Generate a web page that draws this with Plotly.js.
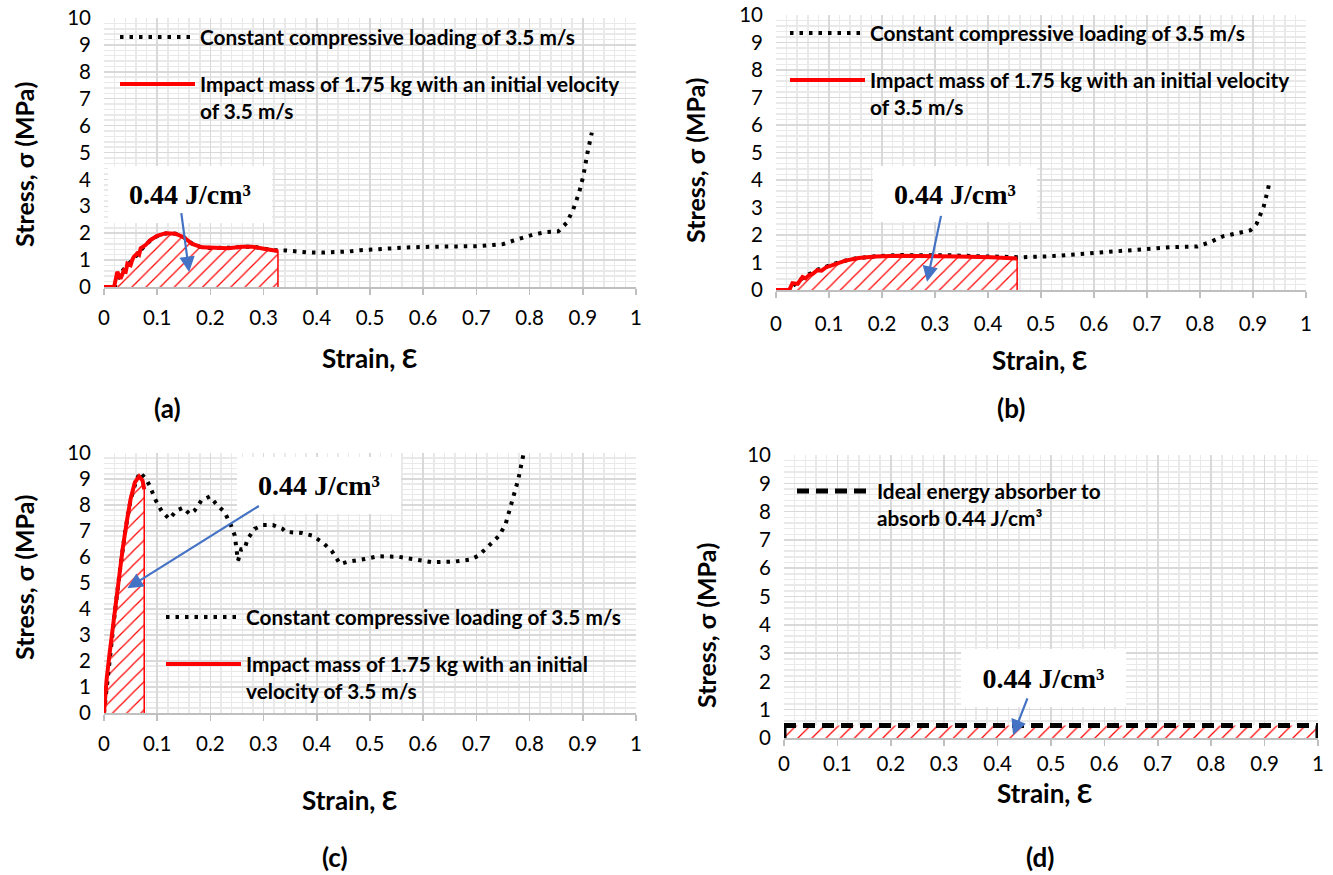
<!DOCTYPE html>
<html>
<head>
<meta charset="utf-8">
<script src="https://cdn.plot.ly/plotly-3.0.1.min.js"></script>
<style>html,body{margin:0;padding:0;background:#fff;}#chart{width:1333px;height:875px;}</style>
</head>
<body>
<div id="chart"></div>
<script>
// ---------- DATA ----------
// (a)
const strainA_const = [0,0.02,0.03,0.045,0.06,0.075,0.09,0.105,0.12,0.135,0.15,0.165,0.18,0.2,0.22,0.24,0.26,0.28,0.3,0.32,0.341,0.36,0.38,0.41,0.436,0.46,0.483,0.51,0.538,0.57,0.6,0.63,0.657,0.68,0.704,0.73,0.751,0.775,0.79,0.807,0.83,0.854,0.87,0.882,0.893,0.901,0.909,0.917];
const stressA_const = [0,0,0.5,0.8,1.15,1.5,1.78,1.95,2.0,1.98,1.85,1.62,1.5,1.45,1.44,1.46,1.5,1.5,1.43,1.37,1.36,1.32,1.29,1.28,1.29,1.32,1.37,1.41,1.45,1.47,1.49,1.49,1.49,1.5,1.52,1.56,1.6,1.76,1.86,1.95,2.04,2.07,2.39,2.88,3.5,4.12,5.0,5.74];
const strainA_impact = [0,0.019,0.025,0.031,0.0375,0.041,0.044,0.05,0.053,0.056,0.0625,0.066,0.069,0.078,0.0875,0.1,0.116,0.134,0.15,0.166,0.184,0.209,0.234,0.259,0.278,0.303,0.327];
const stressA_impact = [0,0,0.56,0.31,0.62,0.58,0.87,0.81,1.0,1.12,1.25,1.2,1.44,1.56,1.75,1.9,2.0,1.98,1.85,1.6,1.475,1.44,1.44,1.5,1.5,1.41,1.34];
// (b)
const strainB_const = [0,0.025,0.04,0.06,0.08,0.1,0.12,0.15,0.19,0.23,0.28,0.33,0.38,0.42,0.465,0.52,0.578,0.626,0.666,0.698,0.747,0.795,0.819,0.843,0.867,0.895,0.907,0.92,0.928,0.932];
const stressB_const = [0,0,0.3,0.55,0.75,0.9,1.02,1.15,1.23,1.27,1.28,1.26,1.23,1.2,1.19,1.23,1.32,1.38,1.44,1.52,1.56,1.58,1.74,1.95,2.05,2.17,2.41,3.02,3.63,4.0];
const strainB_impact = [0,0.025,0.031,0.041,0.05,0.056,0.0625,0.07,0.078,0.086,0.094,0.1125,0.131,0.156,0.1875,0.231,0.281,0.344,0.406,0.455];
const stressB_impact = [0,0,0.25,0.22,0.47,0.42,0.54,0.6,0.72,0.7,0.82,0.95,1.07,1.16,1.22,1.25,1.25,1.22,1.19,1.15];
// (c)
const strainC_const = [0,0.01,0.02,0.03,0.04,0.05,0.06,0.0675,0.079,0.086,0.096,0.108,0.1225,0.136,0.149,0.161,0.17,0.183,0.199,0.211,0.227,0.239,0.246,0.249,0.252,0.258,0.264,0.27,0.283,0.299,0.3175,0.336,0.341,0.373,0.392,0.412,0.428,0.444,0.459,0.49,0.515,0.554,0.586,0.617,0.657,0.688,0.704,0.724,0.743,0.755,0.767,0.779,0.789];
const stressC_const = [0,2.0,3.8,5.5,7.0,8.2,8.9,9.26,9.0,8.74,8.23,7.78,7.46,7.78,7.9,7.65,7.78,8.17,8.33,8.04,7.72,7.2,6.82,6.3,5.86,6.3,6.3,6.69,7.08,7.23,7.23,7.08,6.97,6.92,6.82,6.54,6.24,5.73,5.82,5.92,6.03,6.01,5.9,5.8,5.82,5.9,6.05,6.44,6.82,7.27,8.1,9.0,10.0];
const strainC_impact = [0,0.002,0.005,0.01,0.016,0.0225,0.029,0.035,0.0425,0.05,0.058,0.066,0.0725,0.0756];
const stressC_impact = [0,0.67,1.3,2.2,3.23,4.26,5.28,6.3,7.33,8.23,8.87,9.1,8.94,8.6];
// (d)
const strainD_ideal = [0,1];
const stressD_ideal = [0.44,0.44];

// tick labels / texts
const energyLabel = '0.44 J/cm³';
const nameConst = 'Constant compressive loading of 3.5 m/s';
const nameImpactAB = 'Impact mass of 1.75 kg with an initial velocity<br>of 3.5 m/s';
const nameImpactC = 'Impact mass of 1.75 kg with an initial<br>velocity of 3.5 m/s';
const nameIdeal = 'Ideal energy absorber to<br>absorb 0.44 J/cm³';
const panelLabels = ['(a)','(b)','(c)','(d)'];
const xTitle = 'Strain, Ɛ';
const yTitle = 'Stress, σ (MPa)';

// ---------- STYLE ----------
const W = 1333, H = 875;
const PX = v => v / W, PY = v => 1 - v / H;
const RED = '#ff0000', BLUE = '#4472C4';
const sans = 'Lato, Carlito, Calibri, sans-serif';
const serif = 'Liberation Serif, Times New Roman, serif';
const hatch = {shape: '/', fgcolor: RED, bgcolor: '#ffffff', size: 10, solidity: 0.12};

function withDrop(xs, ys) { return {x: xs.concat([xs[xs.length-1]]), y: ys.concat([0])}; }

const traces = [];
function addPanel(ax, leg, xc, yc, xi, yi, impactName) {
  const f = withDrop(xi, yi);
  traces.push({x: f.x, y: f.y, xaxis: 'x'+ax, yaxis: 'y'+ax, mode: 'lines', fill: 'tozeroy',
    fillpattern: hatch, fillcolor: 'rgba(255,255,255,1)', line: {color: RED, width: 1.5}, showlegend: false, hoverinfo: 'skip'});
  traces.push({x: xc, y: yc, xaxis: 'x'+ax, yaxis: 'y'+ax, mode: 'lines', name: nameConst,
    line: {color: '#000', width: 4, dash: '3.5px,6px'}, legend: leg, legendgroup: 'c'+ax});
  traces.push({x: xi, y: yi, xaxis: 'x'+ax, yaxis: 'y'+ax, mode: 'lines', name: impactName,
    line: {color: RED, width: 4}, legend: leg, legendgroup: 'i'+ax});
}
addPanel('', 'legend', strainA_const, stressA_const, strainA_impact, stressA_impact, nameImpactAB);
addPanel('2', 'legend2', strainB_const, stressB_const, strainB_impact, stressB_impact, nameImpactAB);
addPanel('3', 'legend3', strainC_const, stressC_const, strainC_impact, stressC_impact, nameImpactC);
// (d)
traces.push({x: strainD_ideal, y: stressD_ideal, xaxis: 'x4', yaxis: 'y4', mode: 'lines', fill: 'tozeroy',
  fillpattern: hatch, fillcolor: 'rgba(255,255,255,1)', line: {width: 0}, showlegend: false, hoverinfo: 'skip'});
traces.push({x: [strainD_ideal[0], strainD_ideal[0], null, strainD_ideal[1], strainD_ideal[1]],
  y: [0, stressD_ideal[0], null, 0, stressD_ideal[1]], xaxis: 'x4', yaxis: 'y4', mode: 'lines',
  line: {color: '#000', width: 5}, showlegend: false, hoverinfo: 'skip'});
traces.push({x: strainD_ideal, y: stressD_ideal, xaxis: 'x4', yaxis: 'y4', mode: 'lines', name: nameIdeal,
  line: {color: '#000', width: 5, dash: '12px,7px'}, legend: 'legend4'});

const tickFont = {family: sans, size: 20.5, color: '#000'};
function xa(domain, anchor, standoff) {
  return {domain: domain, anchor: anchor, range: [0, 1.0001], tick0: 0, dtick: 0.1, showgrid: true,
    gridcolor: '#d9d9d9', gridwidth: 1.5, zeroline: false, showline: true, linecolor: '#bfbfbf', linewidth: 2,
    ticks: 'outside', ticklen: 6, tickcolor: '#bfbfbf', tickwidth: 1.5, tickfont: tickFont, ticklabelstandoff: standoff,
    minor: {dtick: 0.02, showgrid: true, gridcolor: '#e9e9e9', gridwidth: 1.5}, fixedrange: true};
}
function ya(domain, anchor) {
  return {domain: domain, anchor: anchor, range: [0, 10.001], tick0: 0, dtick: 1, showgrid: true,
    gridcolor: '#d9d9d9', gridwidth: 1.5, zeroline: false, showline: false, ticks: '',
    tickfont: tickFont, ticklabelstandoff: 12,
    minor: {dtick: 0.2, showgrid: true, gridcolor: '#e9e9e9', gridwidth: 1.5}, fixedrange: true};
}
const legFont = {family: sans, size: 20.8, color: '#000', weight: 'bold'};
function leg(xpx, ypx) {
  return {x: PX(xpx), y: PY(ypx), xanchor: 'left', yanchor: 'top', bgcolor: 'rgba(0,0,0,0)', valign: 'top',
    font: legFont, itemwidth: 75, traceorder: 'grouped', tracegroupgap: 17, itemclick: false, itemdoubleclick: false};
}

const annotations = [];
function txt(text, xpx, ypx, size, rot) {
  annotations.push({text: '<b>' + text + '</b>', xref: 'paper', yref: 'paper', x: PX(xpx), y: PY(ypx),
    xanchor: 'center', yanchor: 'middle', showarrow: false, textangle: rot || 0,
    font: {family: sans, size: size, color: '#000'}});
}
txt(xTitle, 370, 358, 26); txt(xTitle, 1040, 360, 26); txt(xTitle, 350, 800, 26); txt(xTitle, 1045, 793, 26);
txt(yTitle, 24, 165, 25, -90); txt(yTitle, 695, 160, 25, -90); txt(yTitle, 24, 578, 25, -90); txt(yTitle, 706, 626, 25, -90);
txt(panelLabels[0], 167, 408, 26); txt(panelLabels[1], 1011, 408, 26); txt(panelLabels[2], 335, 857, 26); txt(panelLabels[3], 1040, 857, 26);

function box(xpx, ypx, w, h) {
  annotations.push({text: '<b>' + energyLabel + '</b>', xref: 'paper', yref: 'paper', x: PX(xpx), y: PY(ypx),
    xanchor: 'center', yanchor: 'middle', showarrow: false, width: w, height: h, bgcolor: '#ffffff',
    borderpad: 0, borderwidth: 0, font: {family: serif, size: 28, color: '#000'}});
}
function arrow(ax, xh, yh, xt, yt) {
  annotations.push({text: '', xref: 'x'+ax, yref: 'y'+ax, axref: 'x'+ax, ayref: 'y'+ax, x: xh, y: yh, ax: xt, ay: yt,
    showarrow: true, arrowcolor: BLUE, arrowwidth: 2.2, arrowhead: 2, arrowsize: 1.4, standoff: 0, startstandoff: 0});
}
box(190, 194.5, 164, 57); arrow('', 0.16, 0.56, 0.145, 2.8);
box(954.5, 194, 164, 56);   arrow('2', 0.285, 0.3, 0.312, 2.75);
box(319, 485.5, 164, 57);   arrow('3', 0.044, 4.8, 0.294, 8.0);
box(1043.5, 678, 165, 58);  arrow('4', 0.429, 0.1, 0.457, 1.45);

const layout = {
  width: W, height: H, margin: {l: 0, r: 0, t: 0, b: 0}, paper_bgcolor: '#fff', plot_bgcolor: '#fff',
  xaxis: xa([104/W, 636/W], 'y', 5), yaxis: ya([1-287/H, 1-18/H], 'x'),
  xaxis2: xa([776/W, 1306/W], 'y2', 8), yaxis2: ya([1-290/H, 1-15/H], 'x2'),
  xaxis3: xa([104/W, 636/W], 'y3', 5), yaxis3: ya([1-713/H, 1-453/H], 'x3'),
  xaxis4: xa([784/W, 1318/W], 'y4', 0), yaxis4: ya([1-738/H, 1-455/H], 'x4'),
  legend: leg(115, 17), legend2: leg(785, 13), legend3: leg(161, 597), legend4: leg(792, 471),
  annotations: annotations, showlegend: true
};
Plotly.newPlot('chart', traces, layout, {displayModeBar: false, staticPlot: true});
</script>
</body>
</html>
